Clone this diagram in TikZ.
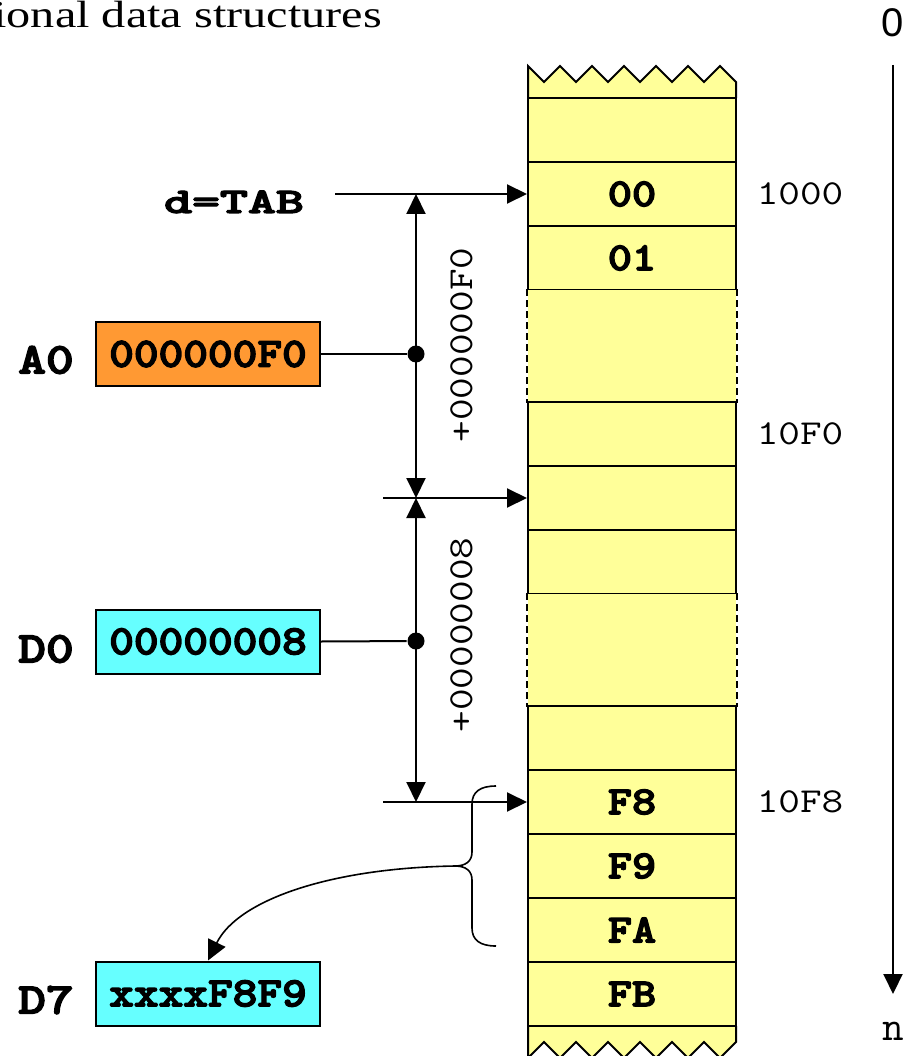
\documentclass[tikz,border=0pt]{standalone}
\usepackage{fontspec}
\usepackage{graphicx}
\setmainfont{Liberation Serif}
\newfontfamily\sansfont{Liberation Sans}
\newfontfamily\courbold[FakeBold=3]{lmmonolt10-bold.otf}
\usetikzlibrary{arrows.meta}
\definecolor{memyellow}{HTML}{FFFF99}
\definecolor{regorange}{HTML}{FF9933}
\definecolor{regcyan}{HTML}{66FFFF}
\newcommand{\wide}[2]{\scalebox{#1}[1]{#2}}
\begin{document}
\begin{tikzpicture}[x=1pt,y=-1pt,
  line width=2pt,
  cell/.style={draw=black, line width=2pt, fill=memyellow, minimum width=208pt, minimum height=64pt, inner sep=0pt, font=\courbold\fontsize{40}{40}\selectfont},
  gapcell/.style={fill=memyellow, minimum width=208pt, minimum height=112pt, inner sep=0pt},
  regbox/.style={draw=black, line width=2pt, minimum width=224pt, minimum height=64pt, inner sep=0pt, font=\courbold\fontsize{42}{42}\selectfont},
  reglabel/.style={inner sep=0pt, font=\courbold\fontsize{44}{44}\selectfont},
  addr/.style={inner sep=0pt, font=\ttfamily\fontsize{35}{35}\selectfont},
  offs/.style={inner sep=0pt, rotate=90, font=\ttfamily\fontsize{35}{35}\selectfont},
  arr/.style={-{Triangle[length=20pt,width=19pt]}},
  dblarr/.style={{Triangle[length=20pt,width=19pt]}-{Triangle[length=20pt,width=19pt]}},
  dot/.style={circle, fill=black, inner sep=0pt, minimum size=17pt},
  dashside/.style={line width=2pt, dash pattern=on 7pt off 4pt}]
\clip (0,0) rectangle (914,1056);
% title
\node[anchor=base east, inner sep=0pt, font=\fontsize{38}{38}\selectfont] (title) at (383,28) {\wide{1.27}{ional data structures}};
% top torn edge
\fill[memyellow] (528,98) -- (528,66) -- (544,82) -- (560,66) -- (576,82) -- (592,66) -- (608,82) -- (624,66) -- (640,82) -- (656,66) -- (672,82) -- (688,66) -- (704,82) -- (720,66) -- (736,82) -- (736,98) -- cycle;
\draw (528,98) -- (528,66) -- (544,82) -- (560,66) -- (576,82) -- (592,66) -- (608,82) -- (624,66) -- (640,82) -- (656,66) -- (672,82) -- (688,66) -- (704,82) -- (720,66) -- (736,82) -- (736,98);
% bottom torn edge
\fill[memyellow] (528,1026) -- (528,1058) -- (544,1042) -- (560,1058) -- (576,1042) -- (592,1058) -- (608,1042) -- (624,1058) -- (640,1042) -- (656,1058) -- (672,1042) -- (688,1058) -- (704,1042) -- (720,1058) -- (736,1042) -- (736,1026) -- cycle;
\draw (528,1026) -- (528,1058) -- (544,1042) -- (560,1058) -- (576,1042) -- (592,1058) -- (608,1042) -- (624,1058) -- (640,1042) -- (656,1058) -- (672,1042) -- (688,1058) -- (704,1042) -- (720,1058) -- (736,1042) -- (736,1026);
% memory cells
\node[cell] (r0) at (632,130) {};
\node[cell] (c00) at (632,194) {\wide{1.15}{00}};
\node[cell] (c01) at (632,258) {\wide{1.15}{01}};
\node[gapcell] (g1) at (632,346) {};
\node[cell] (c10F0) at (632,434) {};
\node[cell] (ctgt) at (632,498) {};
\node[cell] (r562) at (632,562) {};
\node[gapcell] (g2) at (632,650) {};
\node[cell] (r738) at (632,738) {};
\node[cell] (cF8) at (632,802) {\wide{1.15}{F8}};
\node[cell] (cF9) at (632,866) {\wide{1.15}{F9}};
\node[cell] (cFA) at (632,930) {\wide{1.15}{FA}};
\node[cell] (cFB) at (632,994) {\wide{1.15}{FB}};
\draw[dashside] (g1.north west) -- (g1.south west);
\draw[dashside] (g1.north east) -- (g1.south east);
\draw[dashside] (g2.north west) -- (g2.south west);
\draw[dashside] (g2.north east) -- (g2.south east);
% addresses
\node[addr] (a1000) at (800,194) {\wide{1.2}{1000}};
\node[addr] (a10F0) at (800,434) {\wide{1.2}{10F0}};
\node[addr] (a10F8) at (800,802) {\wide{1.2}{10F8}};
% registers
\node[regbox, fill=regorange] (A0box) at (208,354) {\wide{1.12}{000000F0}};
\node[regbox, fill=regcyan] (D0box) at (208,641.5) {\wide{1.12}{00000008}};
\node[regbox, fill=regcyan] (D7box) at (208,993.5) {\wide{1.12}{xxxxF8F9}};
\node[reglabel] (A0lab) at (46,360) {\wide{1.2}{A0}};
\node[reglabel] (D0lab) at (46,649) {\wide{1.2}{D0}};
\node[reglabel] (D7lab) at (46,1000) {\wide{1.2}{D7}};
\node[inner sep=0pt, anchor=base, font=\courbold\fontsize{36}{36}\selectfont] (dtab) at (234,213) {\wide{1.48}{d=TAB}};
% pointers
\coordinate (dstart) at (335,194);
\draw[arr] (dstart) -- (c00.west);
\coordinate (v1top) at (416,194);
\coordinate (v1bot) at (416,498);
\coordinate (v2bot) at (416,802);
\draw[dblarr] (v1top) -- (v1bot);
\draw[dblarr] (v1bot) -- (v2bot);
\node[dot] (dotA) at (416,354) {};
\node[dot] (dotD) at (416,641) {};
\draw (A0box.east) -- (dotA);
\draw (D0box.east) -- (dotD);
\coordinate (m1) at (383,498);
\draw[arr] (m1) -- (ctgt.west);
\coordinate (m2) at (383,802);
\draw[arr] (m2) -- (cF8.west);
\node[offs] (off1) at (462,345) {\wide{1.2}{+000000F0}};
\node[offs] (off2) at (462,635) {\wide{1.2}{+00000008}};
% brace
\coordinate (bracetip) at (455,866);
\draw[line width=1.6pt] (496,786) .. controls (480,786) and (472,792) .. (472,804) -- (472,852) .. controls (472,861) and (466,866) .. (bracetip) .. controls (466,866) and (472,871) .. (472,880) -- (472,928) .. controls (472,940) and (480,946) .. (496,946);
\draw[arr, line width=1.6pt] (bracetip) .. controls (330,868) and (238,900) .. (D7box.north);
% axis
\node[inner sep=0pt, font=\sansfont\fontsize{40}{40}\selectfont] (zero) at (893,23) {0};
\node[inner sep=0pt, font=\ttfamily\fontsize{42}{42}\selectfont] (nlab) at (893,1031) {n};
\coordinate (axtop) at (893,65);
\coordinate (axbot) at (893,994);
\draw[arr] (axtop) -- (axbot);
\end{tikzpicture}
\end{document}
